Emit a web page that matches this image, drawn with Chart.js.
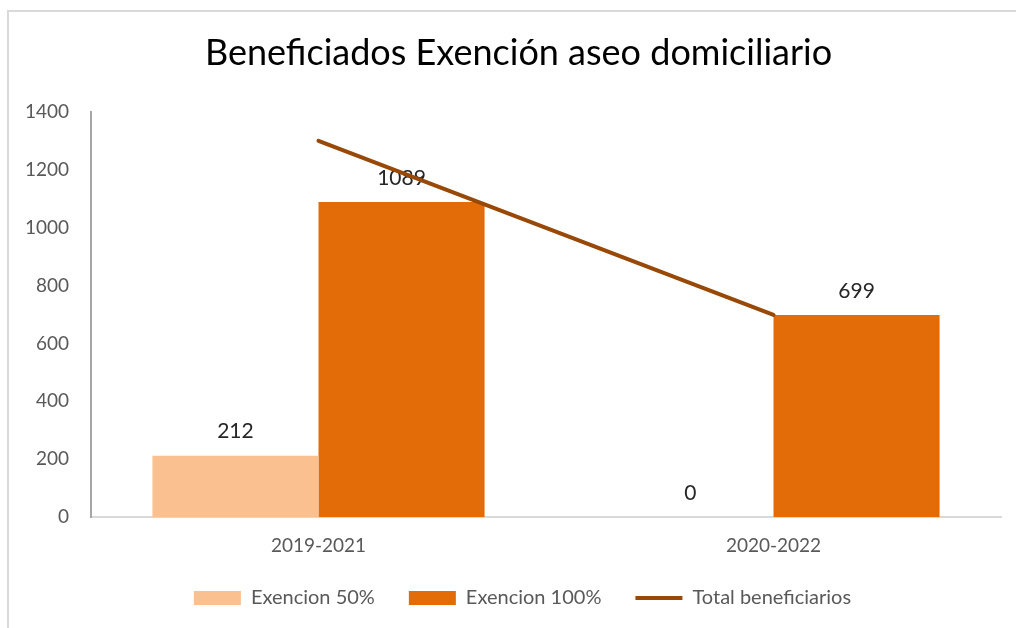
<!DOCTYPE html>
<html>
<head>
<meta charset="utf-8">
<script src="https://cdn.jsdelivr.net/npm/chart.js@4.4.1/dist/chart.umd.min.js"></script>
<style>
  html, body { margin: 0; padding: 0; background: #fff; }
  #wrap { position: absolute; left: 0; top: 0; width: 1016px; height: 628px; }
</style>
</head>
<body>
<div id="wrap"><canvas id="chart"></canvas></div>
<script>
const periodos = ['2019-2021', '2020-2022'];
const exencion50 = [212, 0];
const exencion100 = [1089, 699];
const totalBeneficiarios = [1301, 699];
const yTicks = [0, 200, 400, 600, 800, 1000, 1200, 1400];

const FONT = 'Lato, "Open Sans", sans-serif';

// dibuja el marco gris de arriba y de la izquierda
const marco = {
  id: 'marco',
  beforeDraw(chart) {
    const ctx = chart.ctx;
    ctx.save();
    ctx.strokeStyle = '#d9d9d9';
    ctx.lineWidth = 2;
    ctx.beginPath();
    ctx.moveTo(8, 628);
    ctx.lineTo(8, 11);
    ctx.lineTo(1016, 11);
    ctx.stroke();
    ctx.restore();
  }
};

// el titulo y la leyenda van un poco a la derecha, como en el original
const desplazar = {
  id: 'desplazar',
  afterLayout(chart) {
    if (chart.legend) { chart.legend.left += 22; chart.legend.right += 22; }
    if (chart.titleBlock) { chart.titleBlock.left += 18; chart.titleBlock.right += 18; }
  }
};

// etiquetas de valor encima de las barras
const etiquetas = {
  id: 'etiquetas',
  afterDatasetDraw(chart, args) {
    if (args.meta.type !== 'bar') return;
    const ctx = chart.ctx;
    const data = chart.data.datasets[args.index].data;
    ctx.save();
    ctx.font = '21px ' + FONT;
    ctx.fillStyle = '#262626';
    ctx.textAlign = 'center';
    ctx.textBaseline = 'middle';
    args.meta.data.forEach((bar, i) => {
      ctx.fillText(String(data[i]), bar.x, bar.y - 24);
    });
    ctx.restore();
  }
};

new Chart(document.getElementById('chart'), {
  type: 'bar',
  data: {
    labels: periodos,
    datasets: [
      {
        type: 'line',
        label: 'Total beneficiarios',
        data: totalBeneficiarios,
        borderColor: '#984807',
        backgroundColor: '#984807',
        borderWidth: 4,
        borderCapStyle: 'round',
        pointRadius: 0,
        pointStyle: 'line',
        order: 0
      },
      {
        label: 'Exencion 50%',
        data: exencion50,
        backgroundColor: '#FAC090',
        pointStyle: 'rect',
        categoryPercentage: 0.73,
        barPercentage: 1,
        order: 1
      },
      {
        label: 'Exencion 100%',
        data: exencion100,
        backgroundColor: '#E36C09',
        pointStyle: 'rect',
        categoryPercentage: 0.73,
        barPercentage: 1,
        order: 1
      }
    ]
  },
  options: {
    responsive: true,
    maintainAspectRatio: false,
    animation: false,
    layout: { padding: { left: 0, right: 15, top: 0, bottom: 10 } },
    plugins: {
      title: {
        display: true,
        text: 'Beneficiados Exención aseo domiciliario',
        color: '#000',
        font: { family: FONT, size: 36, weight: 'normal' },
        padding: { top: 32, bottom: 37 }
      },
      legend: {
        position: 'bottom',
        labels: {
          color: '#595959',
          font: { family: FONT, size: 20 },
          usePointStyle: true,
          pointStyleWidth: 47,
          boxHeight: 14,
          padding: 34,
          sort: (a, b) => (a.datasetIndex === 0) - (b.datasetIndex === 0) || a.datasetIndex - b.datasetIndex
        }
      },
      tooltip: { enabled: false }
    },
    scales: {
      x: {
        grid: { display: false, drawTicks: false },
        border: { color: '#d9d9d9', width: 2 },
        ticks: { color: '#595959', font: { family: FONT, size: 19 }, padding: 17 },
        afterFit(scale) { scale.height = 37; }
      },
      y: {
        min: 0,
        max: 1400,
        grid: { display: false, drawTicks: false },
        border: { color: '#a6a6a6', width: 2 },
        afterBuildTicks(scale) { scale.ticks = yTicks.map(v => ({ value: v })); },
        ticks: {
          color: '#595959',
          font: { family: FONT, size: 19 },
          padding: 22,
          callback: v => String(v)
        },
        afterFit(scale) { scale.width = 91; }
      }
    }
  },
  plugins: [marco, desplazar, etiquetas]
});
</script>
</body>
</html>
